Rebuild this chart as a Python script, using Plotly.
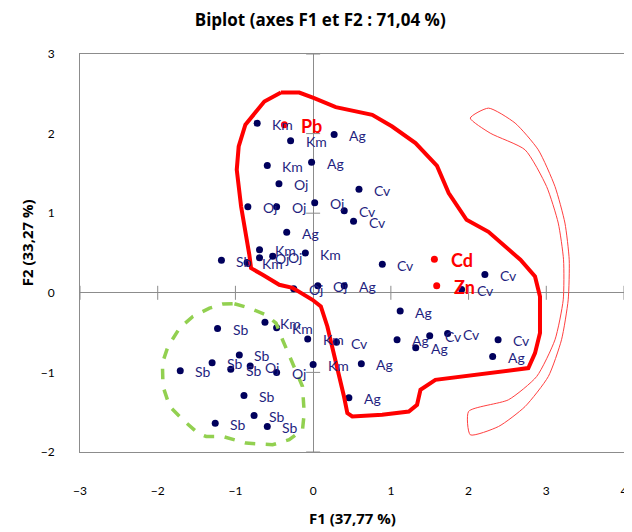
import plotly.graph_objects as go

# observations (F1, F2) per site
km_x = [-0.72, -0.29, -0.59, -0.69, -0.85, -0.10, -0.62, -0.47, -0.07, 0.00]
km_y = [2.13, 1.91, 1.60, 0.54, 0.38, 0.50, -0.37, -0.44, -0.58, -0.90]
ag_x = [0.27, -0.02, -0.34, 0.40, 1.12, 1.08, 1.32, 2.31, 0.62, 0.46]
ag_y = [1.99, 1.64, 0.76, 0.09, -0.23, -0.59, -0.69, -0.80, -0.89, -1.32]
oj_x = [-0.44, -0.84, -0.47, 0.02, -0.69, -0.52, -0.25, 0.06, -0.81, -0.47]
oj_y = [1.37, 1.08, 1.08, 1.13, 0.44, 0.46, 0.05, 0.09, -0.92, -1.00]
cv_x = [0.59, 0.40, 0.52, 0.89, 2.21, 1.91, 0.30, 1.50, 1.73, 2.38]
cv_y = [1.30, 1.03, 0.90, 0.36, 0.23, 0.04, -0.62, -0.54, -0.51, -0.59]
sb_x = [-1.18, -1.23, -0.95, -1.30, -1.71, -1.06, -0.89, -0.76, -1.26, -0.59]
sb_y = [0.41, -0.45, -0.78, -0.88, -0.98, -0.96, -1.29, -1.54, -1.64, -1.68]

# variables (metals)
var_names = ["Pb", "Cd", "Zn"]
var_x = [-0.37, 1.56, 1.59]
var_y = [2.11, 0.42, 0.09]

x_ticks = [-3, -2, -1, 0, 1, 2, 3, 4]
y_ticks = [-2, -1, 0, 1, 2, 3]

# hand-drawn grouping outlines
red_x = [-0.414, -0.179, 0.013, 0.291, 0.760, 1.017, 1.317, 1.594, 1.744, 1.974, 2.256, 2.513,
         2.667, 2.855, 2.919, 2.919, 2.855, 2.769, 2.427, 1.958, 1.573, 1.381, 1.337, 1.231,
         0.888, 0.504, 0.440, 0.397, 0.291, 0.183, 0.099, -0.009, -0.265, -0.436, -0.650,
         -0.799, -0.821, -0.863, -0.927, -0.983, -0.958, -0.872, -0.628, -0.414]
red_y = [2.516, 2.516, 2.446, 2.333, 2.236, 2.089, 1.881, 1.595, 1.253, 0.917, 0.766, 0.540,
         0.415, 0.205, -0.046, -0.506, -0.758, -0.946, -0.989, -1.043, -1.093, -1.219, -1.407,
         -1.491, -1.533, -1.554, -1.511, -1.303, -0.842, -0.423, -0.172, -0.088, 0.063, 0.101,
         0.226, 0.310, 0.477, 0.707, 1.084, 1.545, 1.838, 2.111, 2.403, 2.516]
green_x = [-1.013, -0.821, -0.606, -0.478, -0.394, -0.265, -0.137, -0.115, -0.137, -0.308,
           -0.522, -0.863, -1.163, -1.376, -1.483, -1.676, -1.846, -1.932, -1.940, -1.868,
           -1.718, -1.547, -1.333, -1.163, -1.013]
green_y = [-0.138, -0.192, -0.276, -0.381, -0.590, -0.883, -1.177, -1.511, -1.721, -1.846,
           -1.909, -1.888, -1.805, -1.805, -1.763, -1.595, -1.428, -1.177, -0.883, -0.675,
           -0.443, -0.298, -0.192, -0.142, -0.138]
arc_x = [2.256, 2.599, 2.897, 3.112, 3.240, 3.295, 3.282, 3.196, 3.026, 2.727, 2.385, 2.022,
         2.000, 2.513, 2.876, 3.112, 3.218, 3.222, 3.154, 3.004, 2.727, 2.278, 2.022, 2.256]
arc_y = [2.320, 2.132, 1.796, 1.335, 0.876, 0.415, -0.088, -0.590, -1.052, -1.429, -1.680, -1.784,
         -1.491, -1.344, -1.052, -0.590, -0.088, 0.415, 0.876, 1.335, 1.796, 2.006, 2.195, 2.320]

groups = [("Km", km_x, km_y), ("Ag", ag_x, ag_y), ("Oj", oj_x, oj_y),
          ("Cv", cv_x, cv_y), ("Sb", sb_x, sb_y)]

FONT = "Lato, 'Open Sans', sans-serif"
TITLE_FONT = "'Open Sans', Lato, sans-serif"
NAVY = "#00005C"

fig = go.Figure()

# tick crosses on the zero axes
fig.add_trace(go.Scatter(x=[t for t in x_ticks if t != 0], y=[0] * (len(x_ticks) - 1),
                         mode="markers", hoverinfo="skip",
                         marker=dict(symbol="line-ns", size=10, line=dict(color="#8c8c8c", width=1))))
fig.add_trace(go.Scatter(x=[0] * (len(y_ticks) - 1), y=[t for t in y_ticks if t != 0],
                         mode="markers", hoverinfo="skip",
                         marker=dict(symbol="line-ew", size=10, line=dict(color="#8c8c8c", width=1))))

annotations = []
for name, gx, gy in groups:
    fig.add_trace(go.Scatter(x=gx, y=gy, mode="markers", name=name,
                             marker=dict(color=NAVY, size=7)))
    for xx, yy in zip(gx, gy):
        annotations.append(dict(x=xx, y=yy, text=name, showarrow=False, xanchor="left",
                                xshift=13, yshift=-1, font=dict(family=FONT, size=14, color="#1F1F80")))

fig.add_trace(go.Scatter(x=var_x, y=var_y, mode="markers", name="variables",
                         marker=dict(color="#FF0000", size=7)))
for nm, xx, yy in zip(var_names, var_x, var_y):
    annotations.append(dict(x=xx, y=yy, text="<b>" + nm + "</b>", showarrow=False, xanchor="left",
                            xshift=15, yshift=-1, font=dict(family=FONT, size=18, color="#FF0000")))

# outlines
fig.add_trace(go.Scatter(x=red_x, y=red_y, mode="lines", hoverinfo="skip",
                         line=dict(color="#FF0000", width=4)))
fig.add_trace(go.Scatter(x=green_x, y=green_y, mode="lines", hoverinfo="skip",
                         line=dict(color="#92D050", width=3.5, dash="dash")))
fig.add_trace(go.Scatter(x=arc_x, y=arc_y, mode="lines", hoverinfo="skip",
                         line=dict(color="#FF4040", width=1, shape="spline", smoothing=0.6)))

annotations.append(dict(text="<b>F1 (37,77 %)</b>", xref="paper", yref="paper", x=0.5, y=-0.166,
                        xanchor="center", yanchor="middle", showarrow=False,
                        font=dict(family=TITLE_FONT, size=15, color="#000000")))
annotations.append(dict(text="<b>F2 (33,27 %)</b>", xref="paper", yref="paper", x=-0.097, y=0.525,
                        xanchor="center", yanchor="middle", textangle=-90, showarrow=False,
                        font=dict(family=TITLE_FONT, size=15, color="#000000")))

fig.update_layout(
    width=632, height=532,
    margin=dict(l=72, r=14, t=46, b=88),
    paper_bgcolor="white", plot_bgcolor="white",
    showlegend=False,
    title=dict(text="<b>Biplot (axes F1 et F2 : 71,04 %)</b>", x=0.494, xref="container",
               y=0.978, yanchor="middle", xanchor="center",
               font=dict(family=TITLE_FONT, size=17, color="#000000")),
    annotations=annotations,
)
fig.update_xaxes(range=[-3, 4], tickvals=x_ticks, showgrid=False, zeroline=True,
                 zerolinecolor="#8c8c8c", zerolinewidth=1, showline=True, linecolor="#8c8c8c",
                 mirror=True, ticks="", ticklabelstandoff=28,
                 tickfont=dict(family=FONT, size=12, color="#000000"))
fig.update_yaxes(range=[-2, 3], tickvals=y_ticks, showgrid=False, zeroline=True,
                 zerolinecolor="#8c8c8c", zerolinewidth=1, showline=True, linecolor="#8c8c8c",
                 mirror=True, ticks="", ticklabelstandoff=22,
                 tickfont=dict(family=FONT, size=12, color="#000000"))

fig.write_html("out.html")
